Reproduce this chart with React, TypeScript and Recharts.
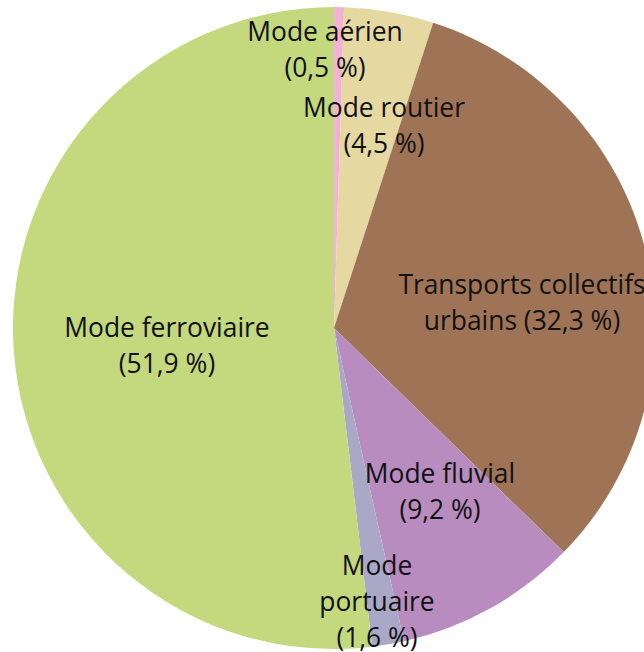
import React from "react";
import { PieChart, Pie, Cell } from "recharts";

const categories = [
  "Mode aérien",
  "Mode routier",
  "Transports collectifs urbains",
  "Mode fluvial",
  "Mode portuaire",
  "Mode ferroviaire",
];
const shares = [0.5, 4.5, 32.3, 9.2, 1.6, 51.9];
const labelLines = [
  ["Mode aérien", "(0,5 %)"],
  ["Mode routier", "(4,5 %)"],
  ["Transports collectifs", "urbains (32,3 %)"],
  ["Mode fluvial", "(9,2 %)"],
  ["Mode", "portuaire", "(1,6 %)"],
  ["Mode ferroviaire", "(51,9 %)"],
];

const COLORS = ["#f2b3d3", "#e5d8a1", "#9f7456", "#b88cbf", "#a9a8c7", "#c4d87e"];
// label anchor offsets from pie centre (first line centre)
const LABEL_OFFSETS = [
  [-9, -297],
  [50, -221],
  [188, -44],
  [106, 145],
  [43, 237],
  [-167, -1],
];
const LINE_H = 36;

const data = categories.map((name, i) => ({ name, value: shares[i] }));

const renderLabel = (props: any) => {
  const { cx, cy, index } = props;
  const [dx, dy] = LABEL_OFFSETS[index];
  const lines = labelLines[index];
  return (
    <g key={`lbl-${index}`}>
      {lines.map((t, j) => (
        <text
          key={j}
          x={cx + dx}
          y={cy + dy + j * LINE_H}
          textAnchor="middle"
          dominantBaseline="central"
          fill="#111"
          fontSize={26.4}
          fontFamily="'Open Sans', sans-serif"
        >
          {t}
        </text>
      ))}
    </g>
  );
};

export default function App() {
  return (
    <div style={{ position: "absolute", left: 0, top: 0, width: 644, height: 652, overflow: "hidden", background: "#fff" }}>
      <PieChart width={644} height={652} margin={{ top: 0, right: 0, bottom: 0, left: 0 }}>
        <Pie
          data={data}
          dataKey="value"
          nameKey="name"
          cx={334}
          cy={328}
          outerRadius={321}
          startAngle={90}
          endAngle={-270}
          stroke="none"
          labelLine={false}
          label={renderLabel}
          isAnimationActive={false}
        >
          {data.map((d, i) => (
            <Cell key={d.name} fill={COLORS[i]} />
          ))}
        </Pie>
      </PieChart>
    </div>
  );
}
